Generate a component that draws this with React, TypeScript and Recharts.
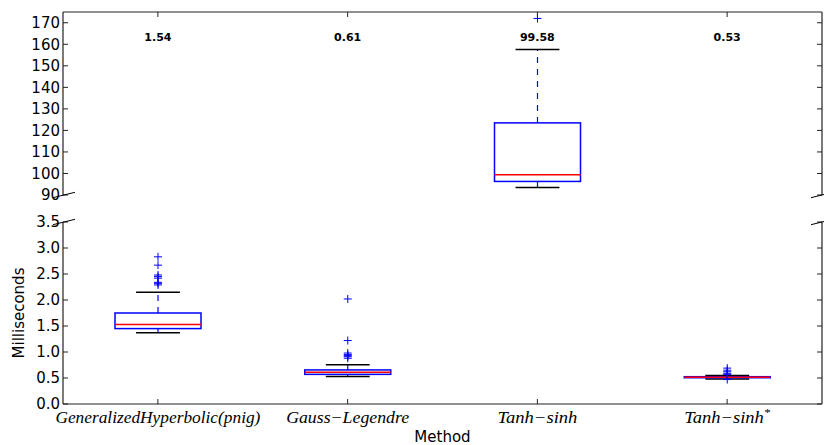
import React from 'react';
import { ComposedChart, Bar, XAxis, YAxis } from 'recharts';

const methods = ['GeneralizedHyperbolic(pnig)', 'Gauss−Legendre', 'Tanh−sinh', 'Tanh−sinh*'];
const panels = ['bottom', 'bottom', 'top', 'bottom'];
const whiskerLow = [1.37, 0.53, 93.5, 0.48];
const q1 = [1.45, 0.57, 96.3, 0.505];
const median = [1.53, 0.61, 99.4, 0.513];
const q3 = [1.75, 0.655, 123.5, 0.525];
const whiskerHigh = [2.15, 0.755, 157.6, 0.55];
const outliers = [
    [2.29, 2.32, 2.34, 2.42, 2.45, 2.48, 2.67, 2.83, 3.58],
    [0.88, 0.91, 0.93, 0.95, 0.98, 1.22, 2.02],
    [172],
    [0.47, 0.57, 0.59, 0.62, 0.65, 0.69],
];
const meanLabels = ['1.54', '0.61', '99.58', '0.53'];
const topTicks = [90, 100, 110, 120, 130, 140, 150, 160, 170];
const bottomTicks = [0, 0.5, 1, 1.5, 2, 2.5, 3, 3.5];
const topDomain = [90, 175];
const bottomDomain = [0, 3.5];

const SANS = '"DejaVu Sans", sans-serif';
const MATH = '"Liberation Serif", "DejaVu Serif", serif';
const labelWidths = [205, 123, 80, 86];
const AXIS = '#222';

const rows = methods.map((m, i) => ({
    method: m,
    lo: whiskerLow[i],
    q1: q1[i],
    med: median[i],
    q3: q3[i],
    hi: whiskerHigh[i],
    out: outliers[i],
    panel: panels[i],
}));
const topRows = rows.map(r => ({ ...r, range: r.panel === 'top' ? [r.lo, r.hi] : null }));
const bottomRows = rows.map(r => ({ ...r, range: r.panel === 'bottom' ? [r.lo, r.hi] : null }));

const makeBoxShape = (domainMax: number) => (props: any) => {
    const { x, y, width, height, payload } = props;
    if (!payload || !payload.range || !isFinite(y) || !isFinite(height)) return <g />;
    const top = Math.min(y, y + height);
    const bot = Math.max(y, y + height);
    // linear map through the bar's own scaled range [lo, hi]
    const px = (v: number) => bot - ((v - payload.lo) / (payload.hi - payload.lo)) * (bot - top);
    const cx = x + width / 2;
    const capW = width * 0.51;
    const clipTop = px(domainMax);
    return (
        <g>
            <line x1={cx} y1={px(payload.q3)} x2={cx} y2={px(payload.hi)} stroke="#0000ff" strokeWidth={1.2} strokeDasharray="6 6" />
            <line x1={cx} y1={px(payload.q1)} x2={cx} y2={px(payload.lo)} stroke="#0000ff" strokeWidth={1.2} strokeDasharray="6 6" />
            <line x1={cx - capW / 2} y1={px(payload.hi)} x2={cx + capW / 2} y2={px(payload.hi)} stroke="#000" strokeWidth={1.5} />
            <line x1={cx - capW / 2} y1={px(payload.lo)} x2={cx + capW / 2} y2={px(payload.lo)} stroke="#000" strokeWidth={1.5} />
            <rect x={x} y={px(payload.q3)} width={width} height={Math.max(px(payload.q1) - px(payload.q3), 0.5)} fill="none" stroke="#0000ff" strokeWidth={1.5} />
            <line x1={x} y1={px(payload.med)} x2={x + width} y2={px(payload.med)} stroke="#ff0000" strokeWidth={1.5} />
            {payload.out.map((v: number, k: number) => {
                const cy = px(v);
                const y1 = Math.max(cy - 4, clipTop);
                const y2 = cy + 4;
                if (y2 < clipTop) return null;
                return (
                    <g key={k}>
                        <line x1={cx} y1={y1} x2={cx} y2={y2} stroke="#0000ff" strokeWidth={1} />
                        {cy >= clipTop && <line x1={cx - 4} y1={cy} x2={cx + 4} y2={cy} stroke="#0000ff" strokeWidth={1} />}
                    </g>
                );
            })}
        </g>
    );
};

const LeftTick = (p: any) => {
    const { x, y, payload, fmt, breakAt } = p;
    return (
        <g>
            <line x1={x} y1={y} x2={x + 5} y2={y} stroke={AXIS} />
            <text x={x - 3} y={y} dy="0.36em" textAnchor="end" fontSize={15} fontFamily={SANS} fill="#000">
                {fmt(payload.value)}
            </text>
            {payload.value === breakAt && <line x1={x - 10} y1={y + 2.7} x2={x + 12} y2={y - 2.7} stroke="#000" strokeWidth={1} />}
        </g>
    );
};

const RightTick = (p: any) => {
    const { x, y, payload, breakAt } = p;
    return (
        <g>
            <line x1={x - 5} y1={y} x2={x} y2={y} stroke={AXIS} />
            {payload.value === breakAt && <line x1={x - 11} y1={y + 2.7} x2={x + 11} y2={y - 2.7} stroke="#000" strokeWidth={1} />}
        </g>
    );
};

const TopTick = (p: any) => {
    const { x, y, index } = p;
    return (
        <g>
            <line x1={x} y1={y} x2={x} y2={y + 5} stroke={AXIS} />
            <text x={x} y={y + 29} textAnchor="middle" fontSize={11} fontWeight="bold" fontFamily={SANS} fill="#000">
                {meanLabels[index]}
            </text>
        </g>
    );
};

const BottomTick = (p: any) => {
    const { x, y, payload, index } = p;
    const name: string = payload.value;
    const star = name.endsWith('*');
    return (
        <g>
            <line x1={x} y1={y} x2={x} y2={y - 5} stroke={AXIS} />
            <text
                x={x}
                y={y + 19}
                textAnchor="middle"
                fontSize={16}
                fontStyle="italic"
                fontFamily={MATH}
                fill="#000"
                textLength={labelWidths[index]}
                lengthAdjust="spacingAndGlyphs"
            >
                {star ? name.slice(0, -1) : name}
                {star && <tspan fontSize={11} dy={-7}>*</tspan>}
            </text>
        </g>
    );
};

const YLabel = (p: any) => {
    const vb = p.viewBox || { x: 8, y: 222, width: 55, height: 182 };
    const cx = vb.x + 11;
    const cy = vb.y + vb.height / 2;
    return (
        <text x={cx} y={cy} transform={`rotate(-90 ${cx} ${cy})`} textAnchor="middle" dy="0.36em" fontSize={15} fontFamily={SANS} fill="#000">
            Milliseconds
        </text>
    );
};

const XLabel = (p: any) => {
    const vb = p.viewBox || { x: 63, y: 404, width: 759, height: 41 };
    return (
        <text x={vb.x + vb.width / 2} y={vb.y + 38} textAnchor="middle" fontSize={15} fontFamily={SANS} fill="#000">
            Method
        </text>
    );
};

export default function App() {
    return (
        <div style={{ position: 'absolute', left: 0, top: 0, width: 824, height: 445, background: '#fff' }}>
            <div style={{ position: 'absolute', left: 0, top: 0 }}>
                <ComposedChart width={824} height={208} data={topRows} margin={{ top: 2, right: 0, bottom: 13, left: 8 }}>
                    <XAxis
                        dataKey="method"
                        orientation="top"
                        height={10}
                        interval={0}
                        tickSize={0}
                        tickMargin={0}
                        tickLine={false}
                        axisLine={{ stroke: AXIS, strokeWidth: 1.2 }}
                        tick={(p: any) => <TopTick {...p} />}
                    />
                    <YAxis
                        yAxisId="l"
                        type="number"
                        domain={topDomain}
                        ticks={topTicks}
                        interval={0}
                        allowDataOverflow
                        width={55}
                        tickSize={0}
                        tickMargin={0}
                        tickLine={false}
                        axisLine={{ stroke: AXIS, strokeWidth: 1.2 }}
                        tick={(p: any) => <LeftTick {...p} fmt={(v: number) => String(v)} breakAt={90} />}
                    />
                    <YAxis
                        yAxisId="r"
                        orientation="right"
                        type="number"
                        domain={topDomain}
                        ticks={topTicks}
                        interval={0}
                        allowDataOverflow
                        width={2}
                        tickSize={0}
                        tickMargin={0}
                        tickLine={false}
                        axisLine={{ stroke: AXIS, strokeWidth: 1.2 }}
                        tick={(p: any) => <RightTick {...p} breakAt={90} />}
                    />
                    <Bar yAxisId="l" dataKey="range" barSize={86} fill="none" shape={makeBoxShape(175)} isAnimationActive={false} />
                </ComposedChart>
            </div>
            <div style={{ position: 'absolute', left: 0, top: 210 }}>
                <ComposedChart width={824} height={235} data={bottomRows} margin={{ top: 12, right: 0, bottom: 0, left: 8 }}>
                    <XAxis
                        dataKey="method"
                        height={41}
                        interval={0}
                        tickSize={0}
                        tickMargin={0}
                        tickLine={false}
                        axisLine={{ stroke: AXIS, strokeWidth: 1.2 }}
                        tick={(p: any) => <BottomTick {...p} />}
                        label={<XLabel />}
                    />
                    <YAxis
                        yAxisId="l"
                        type="number"
                        domain={bottomDomain}
                        ticks={bottomTicks}
                        interval={0}
                        allowDataOverflow
                        width={55}
                        tickSize={0}
                        tickMargin={0}
                        tickLine={false}
                        axisLine={{ stroke: AXIS, strokeWidth: 1.2 }}
                        tick={(p: any) => <LeftTick {...p} fmt={(v: number) => v.toFixed(1)} breakAt={3.5} />}
                        label={<YLabel />}
                    />
                    <YAxis
                        yAxisId="r"
                        orientation="right"
                        type="number"
                        domain={bottomDomain}
                        ticks={bottomTicks}
                        interval={0}
                        allowDataOverflow
                        width={2}
                        tickSize={0}
                        tickMargin={0}
                        tickLine={false}
                        axisLine={{ stroke: AXIS, strokeWidth: 1.2 }}
                        tick={(p: any) => <RightTick {...p} breakAt={3.5} />}
                    />
                    <Bar yAxisId="l" dataKey="range" barSize={86} fill="none" shape={makeBoxShape(3.5)} isAnimationActive={false} />
                </ComposedChart>
            </div>
        </div>
    );
}
